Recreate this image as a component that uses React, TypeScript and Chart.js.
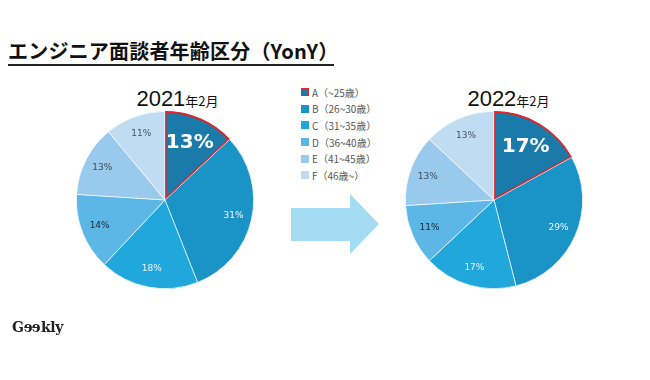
import React, { useEffect, useRef } from "react";
import { Chart, registerables } from "chart.js";

Chart.register(...registerables);

const categories = ["A（~25歳）", "B（26~30歳）", "C（31~35歳）", "D（36~40歳）", "E（41~45歳）", "F（46歳~）"];
const values2021 = [13, 31, 18, 14, 13, 11];
const values2022 = [17, 29, 17, 11, 13, 13];
const pieTitles = [["2021", "年2月"], ["2022", "年2月"]];

const sliceColors = ["#1a7aa9", "#1a93c6", "#20a7dc", "#5cb6e6", "#99c9ec", "#bfdcf2"];
const labelColors = ["#ffffff", "#eef6fb", "#eef6fb", "#1c2833", "#3f4f5c", "#4a5560"];

const labelPlugin = {
  id: "sliceLabels",
  afterDatasetsDraw(chart: any) {
    const ctx = chart.ctx;
    const meta = chart.getDatasetMeta(0);
    const data = chart.data.datasets[0].data;
    meta.data.forEach((arc: any, i: number) => {
      const p = arc.getProps(["x", "y", "startAngle", "endAngle", "outerRadius"], true);
      const mid = (p.startAngle + p.endAngle) / 2;
      const big = i === 0;
      const r = p.outerRadius * (big ? 0.7 : 0.79);
      const x = p.x + Math.cos(mid) * r;
      const y = p.y + Math.sin(mid) * r;
      ctx.save();
      ctx.fillStyle = labelColors[i];
      ctx.textAlign = "center";
      ctx.textBaseline = "middle";
      ctx.font = big ? "bold 20px 'DejaVu Sans'" : "9px 'DejaVu Sans'";
      ctx.fillText(data[i] + "%", x, y);
      ctx.restore();
    });
  },
};

function Pie({ values, left, top }: { values: number[]; left: number; top: number }) {
  const ref = useRef<HTMLCanvasElement>(null);
  useEffect(() => {
    const chart = new Chart(ref.current as HTMLCanvasElement, {
      type: "pie",
      data: {
        labels: categories,
        datasets: [
          {
            data: values,
            backgroundColor: sliceColors,
            borderColor: ["#e0262a", "#ffffff", "#ffffff", "#ffffff", "#ffffff", "#ffffff"],
            borderWidth: [1.6, 0.4, 0.4, 0.4, 0.4, 0.4],
            borderAlign: "inner",
          } as any,
        ],
      },
      options: {
        responsive: false,
        animation: false,
        plugins: { legend: { display: false }, tooltip: { enabled: false } },
        layout: { padding: 0 },
      },
      plugins: [labelPlugin],
    });
    return () => chart.destroy();
  }, []);
  return (
    <canvas
      ref={ref}
      width={178}
      height={178}
      style={{ position: "absolute", left, top, width: 178, height: 178 }}
    />
  );
}

export default function App() {
  const cjk = "'Noto Sans CJK JP', 'Noto Sans', sans-serif";
  return (
    <div style={{ position: "fixed", left: 0, top: 0, width: 650, height: 380, background: "#fff", overflow: "hidden", fontFamily: cjk }}>
      <div
        style={{
          position: "absolute",
          left: 8,
          top: 37,
          width: 326,
          fontSize: 20,
          fontWeight: 700,
          color: "#111",
          lineHeight: "27px",
          borderBottom: "2px solid #222",
          whiteSpace: "nowrap",
          letterSpacing: 0.2,
        }}
      >
        エンジニア面談者年齢区分（YonY）
      </div>

      {pieTitles.map((t, i) => (
        <div
          key={i}
          style={{
            position: "absolute",
            left: i === 0 ? 120 : 451,
            top: 86,
            width: 115,
            textAlign: "center",
            color: "#111",
            whiteSpace: "nowrap",
            lineHeight: "26px",
          }}
        >
          <span style={{ fontSize: 22, fontFamily: "'Liberation Sans', sans-serif" }}>{t[0]}</span>
          <span style={{ fontSize: 13 }}>{t[1]}</span>
        </div>
      ))}

      <Pie values={values2021} left={76} top={111} />
      <Pie values={values2022} left={405} top={111} />

      <div style={{ position: "absolute", left: 301, top: 84 }}>
        {categories.map((c, i) => (
          <div key={i} style={{ display: "flex", alignItems: "center", height: 16.6, fontSize: 10, color: "#555", whiteSpace: "nowrap" }}>
            <span
              style={{
                display: "inline-block",
                width: 6,
                height: 6,
                background: sliceColors[i],
                border: i === 0 ? "1.5px solid #e0262a" : "1px solid transparent",
                marginRight: 3,
              }}
            />
            {c}
          </div>
        ))}
      </div>

      <svg style={{ position: "absolute", left: 0, top: 0 }} width={650} height={380}>
        <polygon points="291,208 350,208 350,194 379,224 350,254 350,241 291,241" fill="#a3dcf3" />
      </svg>

      <div
        style={{
          position: "absolute",
          left: 12,
          top: 319,
          fontFamily: "'DejaVu Serif', 'Liberation Serif', serif",
          fontWeight: 700,
          fontSize: 14,
          color: "#222",
          letterSpacing: -0.3,
        }}
      >
        G<span style={{ display: "inline-block", transform: "scaleX(-1)" }}>e</span>
        <span style={{ display: "inline-block", transform: "scaleX(-1)" }}>e</span>kly
      </div>
    </div>
  );
}
